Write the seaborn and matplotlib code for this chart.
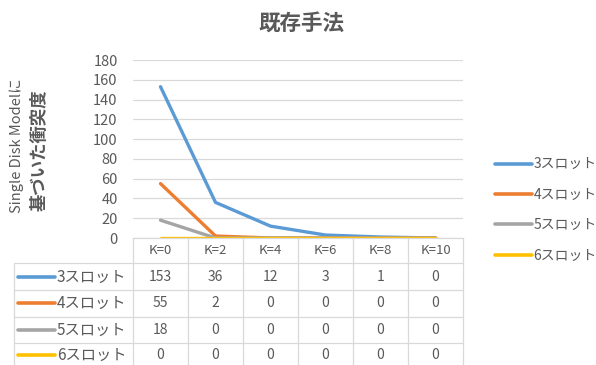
import matplotlib
matplotlib.use("Agg")
import matplotlib.pyplot as plt
import matplotlib.transforms as mtransforms
from matplotlib.lines import Line2D
import seaborn as sns
import pandas as pd

# Data
categories = ["K=0", "K=2", "K=4", "K=6", "K=8", "K=10"]
series_names = ["3スロット", "4スロット", "5スロット", "6スロット"]
slot3 = [153, 36, 12, 3, 1, 0]
slot4 = [55, 2, 0, 0, 0, 0]
slot5 = [18, 0, 0, 0, 0, 0]
slot6 = [0, 0, 0, 0, 0, 0]
series_values = [slot3, slot4, slot5, slot6]
colors = ["#5B9BD5", "#ED7D31", "#A5A5A5", "#FFC000"]
y_ticks = list(range(0, 181, 20))
title = "既存手法"
ylabel_lines = ["Single Disk Modelに", "基づいた衝突度"]

sns.set_theme(style="white")
plt.rcParams["font.family"] = ["Noto Sans CJK JP", "DejaVu Sans"]

rows = []
for name, vals in zip(series_names, series_values):
    for i, (cat, v) in enumerate(zip(categories, vals)):
        rows.append({"pos": i, "K": cat, "value": v, "series": name})
df = pd.DataFrame(rows)

W, H = 596, 365
fig = plt.figure(figsize=(W / 100, H / 100), dpi=100)
fig.patch.set_facecolor("white")
text_c = "#595959"


def fx(x):
    return x / W


def fy(y):
    return 1 - y / H


ax = fig.add_axes([fx(133), fy(238), fx(463) - fx(133), fy(60) - fy(238)])
sns.lineplot(data=df, x="pos", y="value", hue="series", hue_order=series_names,
             palette=colors, linewidth=2.4, ax=ax, legend=False, sort=False)

ax.set_xlim(-0.5, len(categories) - 0.5)
ax.set_ylim(0, 180)
ax.set_yticks(y_ticks)
ax.set_yticklabels([str(t) for t in y_ticks], fontsize=10.5, color=text_c)
ax.set_xticks([])
ax.set_xlabel("")
ax.set_ylabel("")
ax.tick_params(axis="y", length=0, pad=11)
ax.grid(axis="y", color="#D9D9D9", linewidth=0.9)
for side in ["top", "right", "left"]:
    ax.spines[side].set_visible(False)
ax.spines["bottom"].set_color("#D9D9D9")
ax.spines["bottom"].set_linewidth(0.9)

# Title
fig.text(fx(301), fy(23), title, ha="center", va="center", fontsize=15.5,
         color=text_c, fontweight="bold")

# Y axis label, two lines
fig.text(fx(17), fy(146), ylabel_lines[0], rotation=90, ha="center", va="center",
         fontsize=10.5, color=text_c)
fig.text(fx(40), fy(150), ylabel_lines[1], rotation=90, ha="center", va="center",
         fontsize=12.5, color=text_c, fontweight="bold")

# Data table under the axes
grid_c = "#D9D9D9"
header_top, header_bot = 238, 263
row_lines = [263, 290, 317, 343]
table_bottom = 365
col_edges = [133 + i * 55 for i in range(len(categories) + 1)]
col_edges[-1] = 463


def hline(x0, x1, y):
    fig.add_artist(Line2D([fx(x0), fx(x1)], [fy(y), fy(y)], color=grid_c,
                          linewidth=0.9, transform=fig.transFigure))


def vline(x, y0, y1):
    fig.add_artist(Line2D([fx(x), fx(x)], [fy(y0), fy(y1)], color=grid_c,
                          linewidth=0.9, transform=fig.transFigure))


for x in col_edges:
    vline(x, header_top, table_bottom)
vline(14, row_lines[0], table_bottom)
for y in row_lines:
    hline(14, 463, y)

blend = mtransforms.blended_transform_factory(ax.transData, fig.transFigure)
for i, cat in enumerate(categories):
    fig.text(i, fy((header_top + header_bot) / 2), cat, transform=blend,
             ha="center", va="center", fontsize=9.5, color=text_c)

row_centers = [277, 303, 330, 355]
for r, (name, vals, c) in enumerate(zip(series_names, series_values, colors)):
    yc = fy(row_centers[r])
    fig.add_artist(Line2D([fx(18), fx(55)], [yc, yc], color=c, linewidth=2.6,
                          transform=fig.transFigure))
    fig.text(fx(57), yc, name, ha="left", va="center", fontsize=11, color=text_c)
    for i, v in enumerate(vals):
        fig.text(i, yc, str(v), transform=blend, ha="center", va="center",
                 fontsize=10, color=text_c)

# Legend on the right
handles = [Line2D([], [], color=c, linewidth=2.6) for c in colors]
leg = fig.legend(handles, series_names, loc="center left",
                 bbox_to_anchor=(fx(489), fy(210)), frameon=False,
                 fontsize=10, handlelength=2.7, handletextpad=0.1,
                 labelspacing=1.18, borderaxespad=0)
for t in leg.get_texts():
    t.set_color(text_c)

fig.savefig("out.png", dpi=100, facecolor="white")
